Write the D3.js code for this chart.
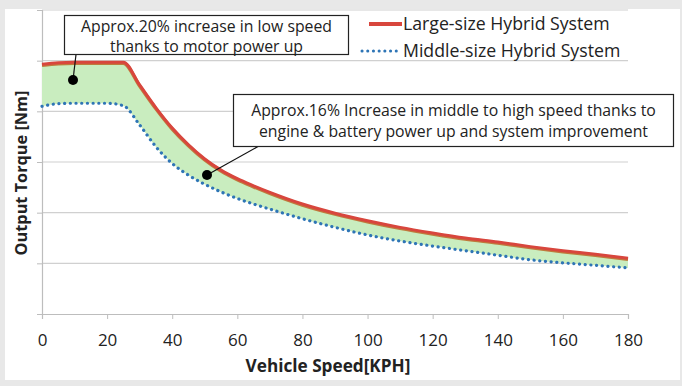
<!DOCTYPE html>
<html><head><meta charset="utf-8">
<script src="https://cdn.jsdelivr.net/npm/d3@7/dist/d3.min.js"></script>
<style>body{margin:0;background:#e8e8e8;} svg{display:block}</style>
</head><body><svg id="c" width="682" height="386"></svg>
<script>
// ---- data ----
const speeds       = [0,5,10,15,20,25,30,35,40,45,50,55,60,65,70,80,90,100,110,120,130,140,150,160,170,180];
const largeTorque  = [4.93,4.96,4.97,4.97,4.97,4.97,4.52,4.07,3.67,3.34,3.06,2.84,2.67,2.53,2.40,2.17,1.99,1.84,1.71,1.60,1.50,1.42,1.33,1.25,1.18,1.10];
const middleTorque = [4.10,4.15,4.16,4.16,4.16,4.11,3.73,3.30,2.97,2.74,2.56,2.41,2.28,2.17,2.07,1.88,1.71,1.56,1.44,1.34,1.25,1.16,1.07,1.01,0.96,0.91];
const xTicks = [0,20,40,60,80,100,120,140,160,180];
const yTicks = [0,1,2,3,4,5,6];
const seriesNames = ["Large-size Hybrid System","Middle-size Hybrid System"];
const note1 = ["Approx.20% increase in low speed","thanks to motor power up"];
const note2 = ["Approx.16% Increase in middle to high speed thanks to","engine & battery power up and system improvement"];
const xTitle = "Vehicle Speed[KPH]";
const yTitle = "Output Torque [Nm]";

const data = speeds.map((s,i)=>({s, L:largeTorque[i], M:middleTorque[i]}));
const svg = d3.select("#c");
const FONT = "'Open Sans', 'Noto Sans', sans-serif";

// card
svg.append("rect").attr("x",5).attr("y",9).attr("width",675).attr("height",371).attr("fill","#fff");

const x = d3.scaleLinear().domain([0,180]).range([42,628]);
const y = d3.scaleLinear().domain([0,6]).range([314,10]);

// gridlines
svg.append("g").selectAll("line").data(yTicks.slice(1)).join("line")
  .attr("x1",x(0)).attr("x2",x(180)).attr("y1",d=>y(d)).attr("y2",d=>y(d))
  .attr("stroke","#d0d0d0").attr("stroke-width",1.2);

// axes
const xa = svg.append("g").attr("transform",`translate(0,${y(0)})`)
  .call(d3.axisBottom(x).tickValues(xTicks).tickSize(5));
xa.select(".domain").attr("stroke","#bdbdbd").attr("stroke-width",1.2);
xa.selectAll(".tick line").attr("stroke","#bdbdbd");
xa.selectAll("text").attr("dy",null).attr("y",32)
  .attr("font-family",FONT).attr("font-size",17).attr("fill","#222");

const ya = svg.append("g").attr("transform",`translate(${x(0)},0)`)
  .call(d3.axisLeft(y).tickValues(yTicks).tickSize(5).tickFormat(""));
ya.select(".domain").attr("stroke","#bdbdbd").attr("stroke-width",1.2);
ya.selectAll(".tick line").attr("stroke","#bdbdbd");

// area between
const curve = d3.curveMonotoneX;
svg.append("path").datum(data)
  .attr("d", d3.area().x(d=>x(d.s)).y0(d=>y(d.M)).y1(d=>y(d.L)).curve(curve))
  .attr("fill","#c9edbf");

// large line (brown under-edge + red)
const lineL = d3.line().x(d=>x(d.s)).y(d=>y(d.L)).curve(curve);
svg.append("path").datum(data).attr("d",lineL).attr("transform","translate(0,1)")
  .attr("fill","none").attr("stroke","#bf7a3c").attr("stroke-width",3.5);
svg.append("path").datum(data).attr("d",lineL)
  .attr("fill","none").attr("stroke","#d8463d").attr("stroke-width",3);

// middle dotted
svg.append("path").datum(data)
  .attr("d", d3.line().x(d=>x(d.s)).y(d=>y(d.M)).curve(curve))
  .attr("fill","none").attr("stroke","#2e75b6").attr("stroke-width",3.2)
  .attr("stroke-linecap","round").attr("stroke-dasharray","0.1 5.6");

// legend
const lg = svg.append("g");
lg.append("line").attr("x1",369).attr("x2",402).attr("y1",24).attr("y2",24)
  .attr("stroke","#d8463d").attr("stroke-width",4);
lg.append("line").attr("x1",362).attr("x2",400).attr("y1",51).attr("y2",51)
  .attr("stroke","#2e75b6").attr("stroke-width",3).attr("stroke-linecap","round").attr("stroke-dasharray","0.1 5.6");
lg.selectAll("text").data(seriesNames).join("text")
  .attr("x",403).attr("y",(d,i)=>30+i*27).text(d=>d)
  .attr("font-family",FONT).attr("font-size",17.7).attr("fill","#222");

// annotations
function note(bx,by,bw,bh,lines,lx,ly1,fs,lineH,x2,y2){
  const g = svg.append("g");
  g.append("line").attr("x1",lx).attr("y1",by+bh).attr("x2",x2).attr("y2",y2).attr("stroke","#111").attr("stroke-width",1.2);
  g.append("circle").attr("cx",x2).attr("cy",y2).attr("r",5).attr("fill","#000");
  g.append("rect").attr("x",bx).attr("y",by).attr("width",bw).attr("height",bh)
    .attr("fill","#fff").attr("stroke","#222").attr("stroke-width",1.2);
  g.selectAll("text").data(lines).join("text")
    .attr("x",bx+bw/2).attr("y",(d,i)=>ly1+i*lineH).attr("text-anchor","middle").text(d=>d)
    .attr("font-family",FONT).attr("font-size",fs).attr("fill","#222");
}
note(64.5,15.5,284,39,note1,76,32,15.8,20,73,80);
note(233.5,94.5,440,52,note2,258,116,15.8,21,207,175);

// titles
svg.append("text").attr("x",328).attr("y",372).attr("text-anchor","middle").text(xTitle)
  .attr("font-family",FONT).attr("font-weight","bold").attr("font-size",17.2).attr("fill","#222");
svg.append("text").attr("transform","translate(27,173) rotate(-90)").attr("text-anchor","middle").text(yTitle)
  .attr("font-family",FONT).attr("font-weight","bold").attr("font-size",16.3).attr("fill","#222");
</script></body></html>
